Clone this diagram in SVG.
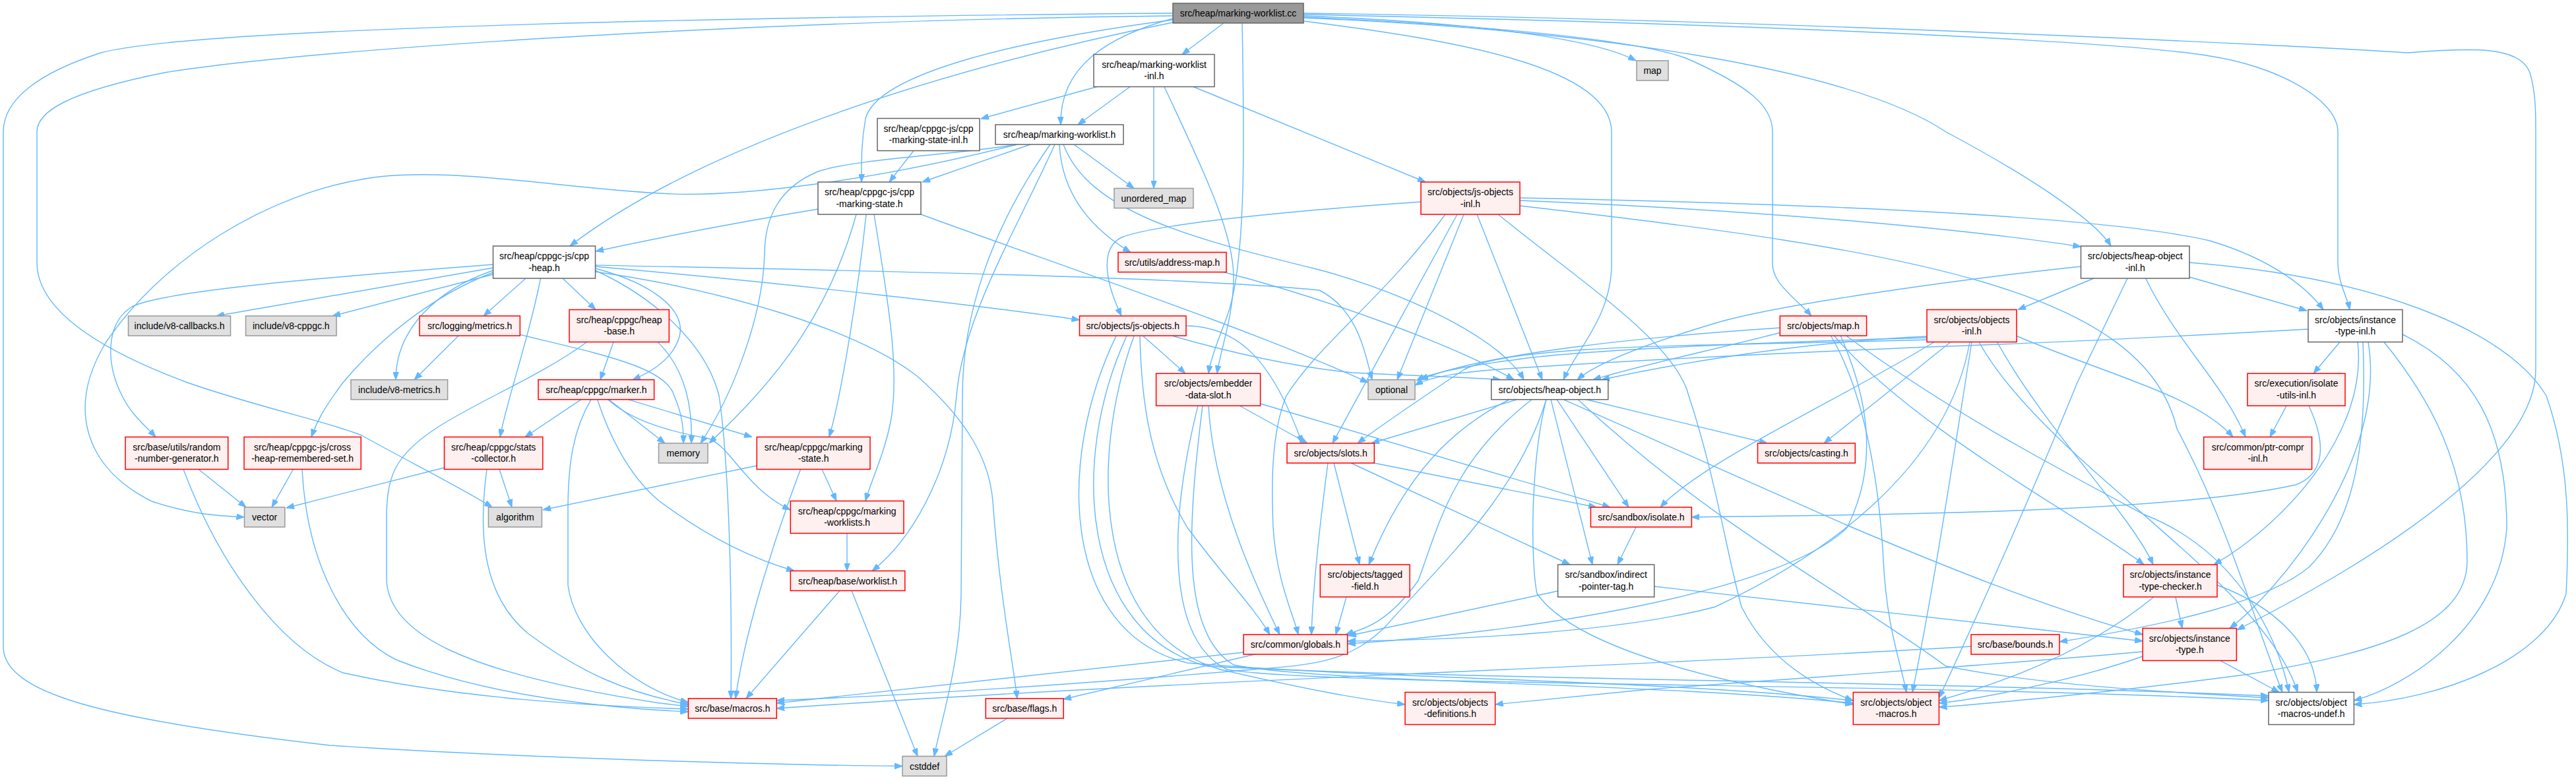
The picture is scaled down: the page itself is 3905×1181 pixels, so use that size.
<svg xmlns="http://www.w3.org/2000/svg" width="3905" height="1181" viewBox="0 0 3905 1181">
<defs>
<style>
.e{fill:none;stroke:#63b8ff;stroke-width:1.4;marker-end:url(#arr)}
.n rect{stroke-width:1.5}
.red rect{fill:#fff0f0;stroke:#ff0000}
.gray rect{fill:#e0e0e0;stroke:#999999}
.white rect{fill:#ffffff;stroke:#666666}
.root rect{fill:#999999;stroke:#666666}
.n text{font-family:"Liberation Sans",Arial,sans-serif;font-size:14px;fill:#000000;text-anchor:middle}
</style>
<marker id="arr" viewBox="0 0 12 9" refX="12" refY="4.5" markerWidth="12" markerHeight="9" markerUnits="userSpaceOnUse" orient="auto">
<path d="M0,0 L12,4.5 L0,9 z" fill="#63b8ff" stroke="#63b8ff" stroke-width="1"/>
</marker>
</defs>
<rect x="0" y="0" width="3905" height="1181" fill="#ffffff"/>
<g id="edges">
<path class="e" d="M1855,35 L1792,82.5"/>
<path class="e" d="M1976,24 C2250,35 2420,60 2480,92"/>
<path class="e" d="M1778,28 C1680,55 1606,100 1608,189"/>
<path class="e" d="M1778,30 C1550,60 1330,110 1312,180 C1305,220 1306,250 1306,276"/>
<path class="e" d="M1778,34 C1400,110 1050,230 864,373"/>
<path class="e" d="M1778,24 C1200,30 500,70 250,110 C100,140 56,170 56,200 L56,398 C56,470 150,530 284,580 C400,620 500,640 548,660 C620,700 700,740 746,769"/>
<path class="e" d="M1778,20 C1200,25 300,40 153,80 C60,110 5,150 5,200 L5,980 C5,1050 150,1090 500,1130 C800,1150 1200,1160 1368,1161.5"/>
<path class="e" d="M1883,35 C1886,200 1890,400 1860,480 C1845,520 1835,545 1832,566.2"/>
<path class="e" d="M1976,27 C2400,45 2800,100 2950,200 C3100,280 3180,340 3200,373"/>
<path class="e" d="M1976,32 C2200,60 2443,100 2443,200 L2443,400 C2443,480 2390,530 2370,575.7"/>
<path class="e" d="M1976,26 C2300,40 2500,65 2560,90 C2650,130 2687,160 2687,200 L2687,400 C2687,430 2720,450 2746,479"/>
<path class="e" d="M1976,22 C2600,35 3200,60 3350,85 C3450,100 3544,150 3544,200 L3544,400 C3545,430 3558,450 3562,469.5"/>
<path class="e" d="M1976,20 C2700,30 3500,70 3650,80 C3750,72 3820,70 3835,110 C3844,140 3844,170 3844,200 L3844,560 C3844,720 3500,900 3391,955"/>
<path class="e" d="M1663,131.5 L1487,180"/>
<path class="e" d="M1713,131.5 L1634,189"/>
<path class="e" d="M1749,131.5 L1749,285.5"/>
<path class="e" d="M1765,131.5 C1820,250 1870,350 1870,420 C1870,480 1850,530 1845,566.2"/>
<path class="e" d="M1809,131.5 L2161,276"/>
<path class="e" d="M1385,228.5 L1348,276"/>
<path class="e" d="M1542,219 C1300,280 1100,300 1000,293 C850,285 700,255 574,268 C400,290 240,400 160,520 C100,620 130,710 230,760 C290,780 330,782 370.5,784"/>
<path class="e" d="M1562,219 L1398,276"/>
<path class="e" d="M1542,219 C1450,235 1300,240 1240,260 C1180,285 1160,330 1159,383 C1157,480 1110,600 1062,672"/>
<path class="e" d="M1599,219 C1540,350 1460,480 1450,600 C1440,720 1380,820 1322,865.5"/>
<path class="e" d="M1606,219 C1610,300 1660,350 1714,382.5"/>
<path class="e" d="M1612,219 C1650,320 1800,360 2000,409 C2150,450 2280,520 2310,575.7"/>
<path class="e" d="M1628,219 L1719,285.5"/>
<path class="e" d="M1592,219 C1500,350 1459,480 1459,600 L1457,900 C1456,1000 1430,1080 1416,1146.5"/>
<path class="e" d="M1240,317 C1100,340 1000,360 903,381"/>
<path class="e" d="M1313,325 C1300,450 1275,600 1257,662.5"/>
<path class="e" d="M1298,325 C1250,500 1150,600 1075,672"/>
<path class="e" d="M1325,325 C1345,450 1365,560 1350,640 C1340,690 1320,730 1312,759.5"/>
<path class="e" d="M1396,325 C1600,400 1900,500 2074,580"/>
<path class="e" d="M2154,306 C1950,320 1750,340 1700,360 C1670,375 1672,420 1700,479"/>
<path class="e" d="M2304,304 C2700,320 3000,350 3154.5,374"/>
<path class="e" d="M2304,300 C2800,310 3200,330 3350,365 C3450,395 3500,440 3522,469.5"/>
<path class="e" d="M2239,325 L2338,575.7"/>
<path class="e" d="M2219,325 L2118,575.7"/>
<path class="e" d="M2209,325 L2020,672"/>
<path class="e" d="M2191,325 C2100,450 2000,520 1950,600 C1925,660 1928,750 1930,800 C1935,880 1960,930 1968,962"/>
<path class="e" d="M2271,325 C2400,430 2540,520 2560,600 C2600,720 2620,850 2640,920 C2680,1000 2750,1040 2809,1062"/>
<path class="e" d="M2304,312 C2900,380 3250,440 3300,650 C3380,800 3420,950 3460,1049.5"/>
<path class="e" d="M3174,422 L3059,469.5"/>
<path class="e" d="M3319,420 L3497,471"/>
<path class="e" d="M3154.5,404 C3000,420 2700,460 2600,490 C2500,520 2420,550 2391,575.7"/>
<path class="e" d="M3225,422 L3149,580 C3080,750 2990,950 2939.4,1058"/>
<path class="e" d="M3252.7,422 C3300,520 3370,580 3404,662.5"/>
<path class="e" d="M3319,398 C3600,420 3800,500 3860,600 C3895,700 3895,800 3890,900 C3860,1000 3700,1060 3568.4,1068"/>
<path class="e" d="M3547,518.5 L3507,566.2"/>
<path class="e" d="M3574,518.5 C3590,650 3470,790 3356,856"/>
<path class="e" d="M3590,518.5 C3620,700 3450,900 3380,952.5"/>
<path class="e" d="M3614,518.5 C3680,600 3740,700 3740,850 C3740,950 3600,990 3410,1022 C3200,1050 3000,1068 2939.4,1072"/>
<path class="e" d="M3642,507 C3750,560 3800,650 3800,800 C3790,950 3650,1040 3568.4,1062"/>
<path class="e" d="M3499,499 C3300,510 3100,520 2950,525 C2700,535 2500,545 2300,558 C2220,563 2170,570 2145,584"/>
<path class="e" d="M3582,518.5 C3590,700 3560,800 3500,860 C3440,910 3300,945 3122,973"/>
<path class="e" d="M2921,510 C2700,520 2500,560 2428,575.7"/>
<path class="e" d="M2921,512 C2700,518 2400,530 2300,545 C2220,555 2170,565 2147,577"/>
<path class="e" d="M2921,515 C2600,525 2300,520 2220,560 C2160,600 2100,640 2058,672"/>
<path class="e" d="M2957,518.5 L2765,672"/>
<path class="e" d="M2932,518.5 C2800,600 2580,700 2517,769"/>
<path class="e" d="M3056,509 C3200,570 3330,600 3385,662.5"/>
<path class="e" d="M3027.5,518.5 C3100,650 3230,780 3264,856"/>
<path class="e" d="M2986,518.5 C2950,720 2750,850 2600,920 C2450,960 2200,970 2042.7,972"/>
<path class="e" d="M2989,518.5 C2960,700 2930,900 2899,1049.5"/>
<path class="e" d="M3000,518.5 C3100,700 3430,880 3483,1049.5"/>
<path class="e" d="M2698,497 C2500,510 2250,535 2153,575.7"/>
<path class="e" d="M2700,504 C2600,530 2480,555 2415,575.7"/>
<path class="e" d="M2775,508.5 C2830,600 2850,750 2855,850 C2860,950 2880,1000 2890,1049.5"/>
<path class="e" d="M2780,508.5 C2900,650 3150,780 3250,856"/>
<path class="e" d="M2798,508.5 C2950,620 3100,700 3250,780 C3380,830 3450,950 3470,1049.5"/>
<path class="e" d="M2790,508.5 C2830,600 2850,700 2800,800 C2700,900 2300,960 2042.7,976"/>
<path class="e" d="M2300,605.7 L2079,672"/>
<path class="e" d="M2288,605.7 C2200,650 2130,720 2075,856"/>
<path class="e" d="M2322,605.7 C2200,700 2180,800 2150,880 C2100,950 2060,955 2040,962"/>
<path class="e" d="M2360,605.7 L2469,769"/>
<path class="e" d="M2351,605.7 L2414,856"/>
<path class="e" d="M2405,605.7 L2679,672"/>
<path class="e" d="M2344,605.7 C2320,700 2320,850 2330,900 C2400,1000 2700,1050 2809,1068"/>
<path class="e" d="M2370,605.7 L2797,795 C2950,860 3100,920 3248.2,962"/>
<path class="e" d="M2392,605.7 C2600,800 2800,900 2950,1010 C3100,1040 3300,1050 3439,1058"/>
<path class="e" d="M2344,605.7 C2300,750 2191,848 2100,950 C2050,1000 2000,1008 1900,1015 C1600,1040 1350,1055 1177.3,1062"/>
<path class="e" d="M2022,702 L2061,856"/>
<path class="e" d="M2013,702 C2000,800 1990,900 1988,962"/>
<path class="e" d="M2083,702 L2420,769"/>
<path class="e" d="M2048,702 L2380,856"/>
<path class="e" d="M1879,615 L1982,672"/>
<path class="e" d="M1832,615.2 C1840,750 1900,880 1940,962"/>
<path class="e" d="M1910.6,612 L2441,769"/>
<path class="e" d="M1823,615.2 C1800,800 1790,960 1870,1008 C2000,1035 2500,1035 2809,1066"/>
<path class="e" d="M1816,615.2 C1770,800 1770,970 1860,1015 C2000,1040 2900,1035 3439,1062"/>
<path class="e" d="M1733,509.4 L1797,566.2"/>
<path class="e" d="M1778,509.4 C1850,530 1950,555 2050,565 C2150,570 2230,572 2275,575.7"/>
<path class="e" d="M1798,494 C1880,495 1930,550 1974,672"/>
<path class="e" d="M1728,509.4 C1730,600 1740,700 1800,800 C1860,880 1900,920 1925,962"/>
<path class="e" d="M1692,509.4 C1600,700 1610,960 1800,1005 C2100,1030 2500,1030 2809,1062"/>
<path class="e" d="M1708,509.4 C1620,700 1640,960 1830,1010 C2200,1030 2900,1032 3439,1055"/>
<path class="e" d="M1719,509.4 C1650,700 1660,960 1850,1015 C1980,1045 2060,1060 2130,1068"/>
<path class="e" d="M1854,412.2 C2000,450 2200,520 2295,575.7"/>
<path class="e" d="M747.5,406 L328,479"/>
<path class="e" d="M747.5,416 L504,479"/>
<path class="e" d="M797,422 L733,479"/>
<path class="e" d="M853,422 L903,469.5"/>
<path class="e" d="M747.5,410 C660,440 600,500 600,575.7"/>
<path class="e" d="M902.5,407 C990,430 1040,470 1030,510 C1020,545 985,565 959,575.7"/>
<path class="e" d="M819.5,422 C800,520 770,600 758,662.5"/>
<path class="e" d="M747.5,413 C650,450 570,520 520,580 C490,620 480,640 472,662.5"/>
<path class="e" d="M747.5,401 C500,420 250,440 200,465 C160,490 160,550 185,600 C200,630 220,645 236,662.5"/>
<path class="e" d="M902.5,410 C990,450 1070,520 1090,600 C1105,700 1110,900 1108,1059"/>
<path class="e" d="M902.5,404 C1200,430 1500,465 1636.5,485"/>
<path class="e" d="M902.5,412 C1100,440 1300,500 1390,570 C1470,640 1500,700 1505,760 C1515,900 1535,1000 1542,1059"/>
<path class="e" d="M902.5,402 C1300,410 1800,420 2000,440 C2060,470 2070,540 2080,575.7"/>
<path class="e" d="M930,518.5 L910,575.7"/>
<path class="e" d="M997,518.5 C1040,560 1050,620 1048,672"/>
<path class="e" d="M889.6,518.5 C820,570 720,610 660,650 C600,690 587,720 586,780 L586,880 C590,960 700,1020 1000,1066 L1043.4,1071"/>
<path class="e" d="M695,509 L628,575.7"/>
<path class="e" d="M787,507 C900,535 1010,555 1022,600 C1035,630 1036,650 1036,672"/>
<path class="e" d="M881,605.7 L796,662.5"/>
<path class="e" d="M923,605.7 L1008,672"/>
<path class="e" d="M952,605.7 L1140,662.5"/>
<path class="e" d="M896,605.7 C870,650 861,700 861,772 L861,887 C870,960 950,1040 1043.4,1065"/>
<path class="e" d="M905.6,605.7 C920,650 950,720 1000,760 C1080,820 1150,850 1204,865.5"/>
<path class="e" d="M921.6,605.7 C960,640 1020,655 1075,665 C1110,680 1130,740 1198,773"/>
<path class="e" d="M1147.3,706 L823,773"/>
<path class="e" d="M1246,711.5 L1268,759.5"/>
<path class="e" d="M1213.6,711.5 C1180,800 1130,950 1115,1059"/>
<path class="e" d="M1284,808 L1284,865.5"/>
<path class="e" d="M1273,895.5 L1131,1059"/>
<path class="e" d="M1291,895.5 L1391,1146.5"/>
<path class="e" d="M1527,1089 L1432,1146.5"/>
<path class="e" d="M673.5,709 L434,770"/>
<path class="e" d="M757,711.5 L776,769"/>
<path class="e" d="M738,711.5 C726,800 728,900 800,960 C880,1020 950,1050 1043.4,1068"/>
<path class="e" d="M301,711.5 L373,769"/>
<path class="e" d="M278,711.5 C330,850 420,980 520,1020 C700,1060 900,1070 1043.4,1075"/>
<path class="e" d="M444.5,711.5 L412,769"/>
<path class="e" d="M458,711.5 C465,850 520,960 600,1000 C750,1060 950,1075 1043.4,1079"/>
<path class="e" d="M1885.2,989 L1177.3,1066"/>
<path class="e" d="M1902,992 L1612,1060"/>
<path class="e" d="M2988,980 C2500,1010 1800,1030 1177.3,1074"/>
<path class="e" d="M2041,905 L2025,962"/>
<path class="e" d="M2361.6,896 L2044,964"/>
<path class="e" d="M2507.7,889 L3248.2,972"/>
<path class="e" d="M2480,799.2 L2452,856"/>
<path class="e" d="M3466,615.3 L3441,662.5"/>
<path class="e" d="M3500,615.3 C3530,680 3520,720 3480,735 C3300,775 2900,780 2564.4,784"/>
<path class="e" d="M3298,905 L3308,952.5"/>
<path class="e" d="M3265,905 C3150,1000 3000,1045 2939.4,1062"/>
<path class="e" d="M3361,887 C3450,920 3510,980 3512,1049.5"/>
<path class="e" d="M3248.2,988 C3000,1010 2700,1030 2500,1045 C2400,1055 2320,1062 2266.6,1068"/>
<path class="e" d="M3248.2,995 C3150,1030 3000,1060 2939.4,1066"/>
<path class="e" d="M3366,1001.6 L3455,1049.5"/>
</g>
<g id="n_root" class="n root"><rect x="1778" y="5" width="198" height="30"/><text x="1877" y="25">src/heap/marking-worklist.cc</text></g>
<g id="n_mwl_inl" class="n white"><rect x="1658" y="82.5" width="183" height="49"/><text><tspan x="1749.5" y="102.5">src/heap/marking-worklist</tspan><tspan x="1749.5" y="120">-inl.h</tspan></text></g>
<g id="n_map" class="n gray"><rect x="2481" y="92" width="48" height="30"/><text x="2505" y="112">map</text></g>
<g id="n_cms_inl" class="n white"><rect x="1330" y="179.5" width="155" height="49"/><text><tspan x="1407.5" y="199.5">src/heap/cppgc-js/cpp</tspan><tspan x="1407.5" y="217">-marking-state-inl.h</tspan></text></g>
<g id="n_mwl_h" class="n white"><rect x="1509" y="189" width="194" height="30"/><text x="1606" y="209">src/heap/marking-worklist.h</text></g>
<g id="n_unordered_map" class="n gray"><rect x="1689" y="285.5" width="120" height="30"/><text x="1749" y="305.5">unordered_map</text></g>
<g id="n_cms_h" class="n white"><rect x="1240" y="276" width="156" height="49"/><text><tspan x="1318" y="296">src/heap/cppgc-js/cpp</tspan><tspan x="1318" y="313.5">-marking-state.h</tspan></text></g>
<g id="n_js_objects_inl" class="n red"><rect x="2154" y="276" width="150" height="49"/><text><tspan x="2229" y="296">src/objects/js-objects</tspan><tspan x="2229" y="313.5">-inl.h</tspan></text></g>
<g id="n_heap_object_inl" class="n white"><rect x="3154.5" y="373" width="164.5" height="49"/><text><tspan x="3236.75" y="393">src/objects/heap-object</tspan><tspan x="3236.75" y="410.5">-inl.h</tspan></text></g>
<g id="n_cpp_heap" class="n white"><rect x="747.5" y="373" width="155" height="49"/><text><tspan x="825" y="393">src/heap/cppgc-js/cpp</tspan><tspan x="825" y="410.5">-heap.h</tspan></text></g>
<g id="n_address_map" class="n red"><rect x="1695" y="382.5" width="164" height="30"/><text x="1777" y="402.5">src/utils/address-map.h</text></g>
<g id="n_v8_callbacks" class="n gray"><rect x="194.5" y="479" width="155" height="30"/><text x="272" y="499">include/v8-callbacks.h</text></g>
<g id="n_v8_cppgc" class="n gray"><rect x="372.5" y="479" width="137.5" height="30"/><text x="441.25" y="499">include/v8-cppgc.h</text></g>
<g id="n_metrics" class="n red"><rect x="636" y="479" width="152.3" height="30"/><text x="712.15" y="499">src/logging/metrics.h</text></g>
<g id="n_heap_base" class="n red"><rect x="863" y="469.5" width="151.3" height="49"/><text><tspan x="938.65" y="489.5">src/heap/cppgc/heap</tspan><tspan x="938.65" y="507">-base.h</tspan></text></g>
<g id="n_js_objects_h" class="n red"><rect x="1636.5" y="479" width="161.5" height="30"/><text x="1717.25" y="499">src/objects/js-objects.h</text></g>
<g id="n_map_h" class="n red"><rect x="2698.3" y="479" width="131.3" height="30"/><text x="2763.95" y="499">src/objects/map.h</text></g>
<g id="n_objects_inl" class="n red"><rect x="2921" y="469.5" width="136" height="49"/><text><tspan x="2989" y="489.5">src/objects/objects</tspan><tspan x="2989" y="507">-inl.h</tspan></text></g>
<g id="n_instance_type_inl" class="n white"><rect x="3499" y="469.5" width="143" height="49"/><text><tspan x="3570.5" y="489.5">src/objects/instance</tspan><tspan x="3570.5" y="507">-type-inl.h</tspan></text></g>
<g id="n_v8_metrics" class="n gray"><rect x="532" y="575.7" width="146.6" height="30"/><text x="605.3" y="595.7">include/v8-metrics.h</text></g>
<g id="n_marker" class="n red"><rect x="816" y="575.7" width="175.6" height="30"/><text x="903.8" y="595.7">src/heap/cppgc/marker.h</text></g>
<g id="n_embedder" class="n red"><rect x="1752.6" y="566.2" width="158" height="49"/><text><tspan x="1831.6" y="586.2">src/objects/embedder</tspan><tspan x="1831.6" y="603.7">-data-slot.h</tspan></text></g>
<g id="n_optional" class="n gray"><rect x="2074" y="575.7" width="71" height="30"/><text x="2109.5" y="595.7">optional</text></g>
<g id="n_heap_object_h" class="n white"><rect x="2260.7" y="575.7" width="177.1" height="30"/><text x="2349.25" y="595.7">src/objects/heap-object.h</text></g>
<g id="n_isolate_utils" class="n red"><rect x="3407" y="566.2" width="148" height="49"/><text><tspan x="3481" y="586.2">src/execution/isolate</tspan><tspan x="3481" y="603.7">-utils-inl.h</tspan></text></g>
<g id="n_random" class="n red"><rect x="190" y="662.5" width="155.7" height="49"/><text><tspan x="267.85" y="682.5">src/base/utils/random</tspan><tspan x="267.85" y="700">-number-generator.h</tspan></text></g>
<g id="n_cross_heap" class="n red"><rect x="370" y="662.5" width="177.2" height="49"/><text><tspan x="458.6" y="682.5">src/heap/cppgc-js/cross</tspan><tspan x="458.6" y="700">-heap-remembered-set.h</tspan></text></g>
<g id="n_stats" class="n red"><rect x="673.5" y="662.5" width="149.3" height="49"/><text><tspan x="748.15" y="682.5">src/heap/cppgc/stats</tspan><tspan x="748.15" y="700">-collector.h</tspan></text></g>
<g id="n_memory" class="n gray"><rect x="998.5" y="672" width="74.5" height="30"/><text x="1035.75" y="692">memory</text></g>
<g id="n_marking_state" class="n red"><rect x="1147.3" y="662.5" width="171.7" height="49"/><text><tspan x="1233.15" y="682.5">src/heap/cppgc/marking</tspan><tspan x="1233.15" y="700">-state.h</tspan></text></g>
<g id="n_slots" class="n red"><rect x="1951" y="672" width="132.3" height="30"/><text x="2017.15" y="692">src/objects/slots.h</text></g>
<g id="n_casting" class="n red"><rect x="2664.5" y="672" width="147.8" height="30"/><text x="2738.4" y="692">src/objects/casting.h</text></g>
<g id="n_ptr_compr" class="n red"><rect x="3340.7" y="662.5" width="163.9" height="49"/><text><tspan x="3422.65" y="682.5">src/common/ptr-compr</tspan><tspan x="3422.65" y="700">-inl.h</tspan></text></g>
<g id="n_vector" class="n gray"><rect x="370.5" y="769" width="61.3" height="30"/><text x="401.15" y="789">vector</text></g>
<g id="n_algorithm" class="n gray"><rect x="740.4" y="769" width="81" height="30"/><text x="780.9" y="789">algorithm</text></g>
<g id="n_marking_worklists" class="n red"><rect x="1198.3" y="759.5" width="171.7" height="49"/><text><tspan x="1284.15" y="779.5">src/heap/cppgc/marking</tspan><tspan x="1284.15" y="797">-worklists.h</tspan></text></g>
<g id="n_sandbox_isolate" class="n red"><rect x="2411.4" y="769" width="153" height="30"/><text x="2487.9" y="789">src/sandbox/isolate.h</text></g>
<g id="n_tagged_field" class="n red"><rect x="2001.3" y="856" width="135.8" height="49"/><text><tspan x="2069.2" y="876">src/objects/tagged</tspan><tspan x="2069.2" y="893.5">-field.h</tspan></text></g>
<g id="n_indirect" class="n white"><rect x="2361.6" y="856" width="146.1" height="49"/><text><tspan x="2434.65" y="876">src/sandbox/indirect</tspan><tspan x="2434.65" y="893.5">-pointer-tag.h</tspan></text></g>
<g id="n_itc" class="n red"><rect x="3219" y="856" width="142" height="49"/><text><tspan x="3290" y="876">src/objects/instance</tspan><tspan x="3290" y="893.5">-type-checker.h</tspan></text></g>
<g id="n_worklist" class="n red"><rect x="1198.3" y="865.5" width="173.5" height="30"/><text x="1285.05" y="885.5">src/heap/base/worklist.h</text></g>
<g id="n_globals" class="n red"><rect x="1885.2" y="962" width="157.5" height="30"/><text x="1963.95" y="982">src/common/globals.h</text></g>
<g id="n_bounds" class="n red"><rect x="2988" y="962" width="134" height="30"/><text x="3055" y="982">src/base/bounds.h</text></g>
<g id="n_instance_type" class="n red"><rect x="3248.2" y="952.5" width="142.2" height="49"/><text><tspan x="3319.3" y="972.5">src/objects/instance</tspan><tspan x="3319.3" y="990">-type.h</tspan></text></g>
<g id="n_macros" class="n red"><rect x="1043.4" y="1059" width="133.9" height="30"/><text x="1110.35" y="1079">src/base/macros.h</text></g>
<g id="n_flags" class="n red"><rect x="1494.3" y="1059" width="117.9" height="30"/><text x="1553.25" y="1079">src/base/flags.h</text></g>
<g id="n_objects_def" class="n red"><rect x="2130" y="1049.5" width="136.6" height="49"/><text><tspan x="2198.3" y="1069.5">src/objects/objects</tspan><tspan x="2198.3" y="1087">-definitions.h</tspan></text></g>
<g id="n_object_macros" class="n red"><rect x="2809.3" y="1049.5" width="130.1" height="49"/><text><tspan x="2874.35" y="1069.5">src/objects/object</tspan><tspan x="2874.35" y="1087">-macros.h</tspan></text></g>
<g id="n_omu" class="n white"><rect x="3439" y="1049.5" width="129.4" height="49"/><text><tspan x="3503.7" y="1069.5">src/objects/object</tspan><tspan x="3503.7" y="1087">-macros-undef.h</tspan></text></g>
<g id="n_cstddef" class="n gray"><rect x="1368" y="1146.5" width="67" height="30"/><text x="1401.5" y="1166.5">cstddef</text></g>
</svg>
